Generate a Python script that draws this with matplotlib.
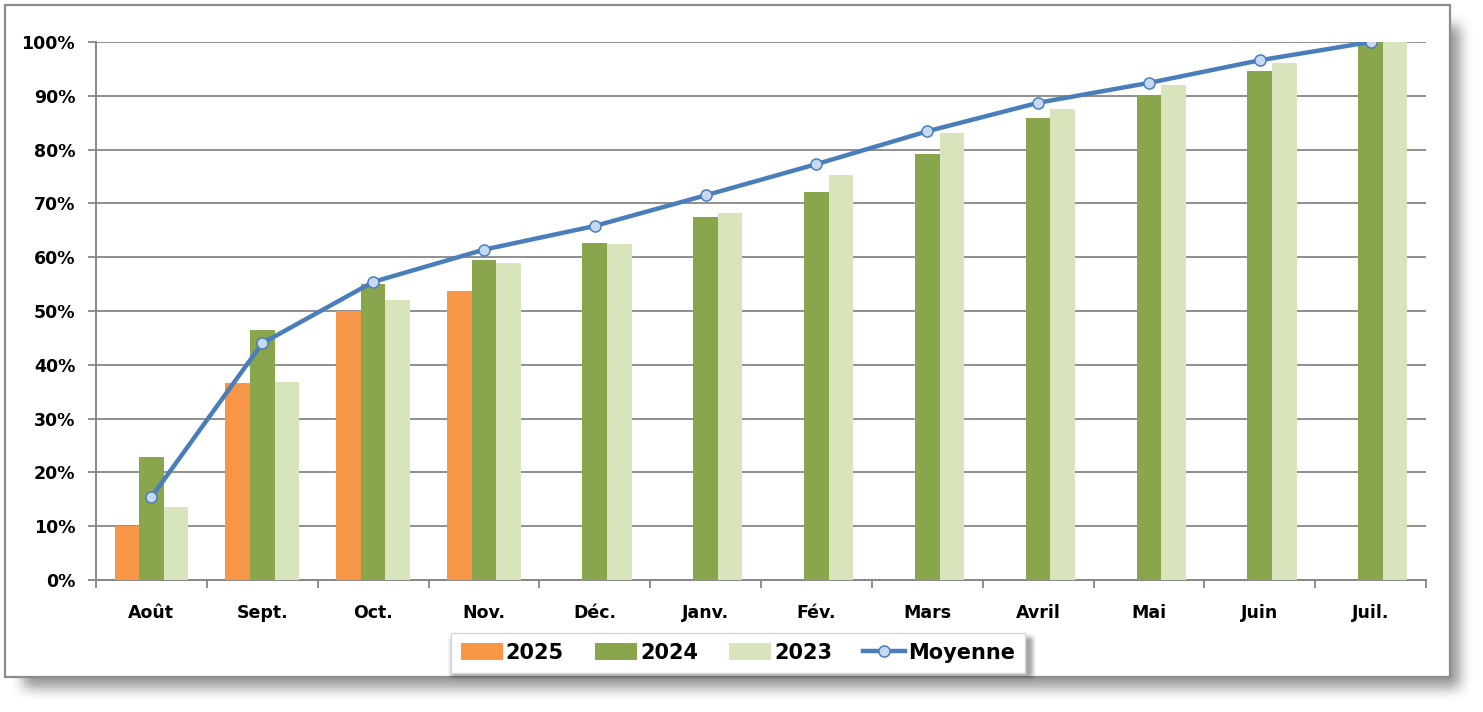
import matplotlib
matplotlib.use("Agg")
import matplotlib.pyplot as plt
import numpy as np
from matplotlib.patches import Rectangle
from matplotlib.ticker import FuncFormatter, FixedLocator
from matplotlib.lines import Line2D
from matplotlib.patches import Patch

months = ["Août", "Sept.", "Oct.", "Nov.", "Déc.", "Janv.", "Fév.", "Mars", "Avril", "Mai", "Juin", "Juil."]
s2025 = [10.1, 36.7, 50.0, 53.8, None, None, None, None, None, None, None, None]
s2024 = [22.8, 46.5, 55.0, 59.4, 62.7, 67.5, 72.1, 79.2, 85.9, 90.1, 94.6, 100.0]
s2023 = [13.5, 36.8, 52.1, 58.9, 62.4, 68.2, 75.3, 83.0, 87.6, 92.0, 96.1, 100.0]
moyenne = [15.4, 44.0, 55.4, 61.4, 65.8, 71.5, 77.3, 83.4, 88.7, 92.4, 96.6, 100.0]
series_labels = ["2025", "2024", "2023", "Moyenne"]

C25 = "#F79646"
C24 = "#8AA64C"
C23 = "#D8E4BC"
CLINE = "#4A7EBB"
CMARK = "#C6D9F1"
GRID = "#878787"

W, H = 1483, 712
fig = plt.figure(figsize=(W / 100, H / 100), dpi=100)
fig.patch.set_facecolor("white")

def px(x0, y0, x1, y1):
    return (x0 / W, 1 - y1 / H, (x1 - x0) / W, (y1 - y0) / H)

def blur1d(a, r, axis):
    k = np.ones(2 * r + 1) / (2 * r + 1)
    return np.apply_along_axis(lambda v: np.convolve(v, k, mode="same"), axis, a)

def soft_shadow(x0, y0, x1, y1, r, strength):
    m = np.zeros((H, W))
    m[y0:y1, x0:x1] = 1.0
    for _ in range(2):
        m = blur1d(m, r, 0)
        m = blur1d(m, r, 1)
    img = np.zeros((H, W, 4))
    img[..., 3] = m * strength
    return img

# outer frame with soft drop shadow
fx0, fy0, fx1, fy1 = 5, 5, 1450, 677
sh = soft_shadow(fx0 + 18, fy0 + 20, fx1 + 10, fy1 + 11, 7, 0.42)
fig.figimage(sh, xo=0, yo=0, origin="upper", zorder=0)

frame = Rectangle((fx0 / W, 1 - fy1 / H), (fx1 - fx0) / W, (fy1 - fy0) / H,
                  transform=fig.transFigure, facecolor="white", edgecolor="#8C8C8C",
                  lw=1.6, zorder=1)
fig.patches.append(frame)

# legend shadow (drawn above frame)
sh2 = soft_shadow(446 + 5, 632 + 5, 1030 + 3, 674 + 3, 2, 0.35)
fig.figimage(sh2, xo=0, yo=0, origin="upper", zorder=1.5)

ax = fig.add_axes(px(96, 42, 1426, 580))
ax.set_zorder(2)
ax.patch.set_alpha(0)

x = np.arange(len(months))
bw = 0.222
v25 = np.array([np.nan if v is None else v for v in s2025], dtype=float)
ax.bar(x - bw, v25, bw, color=C25, zorder=3)
ax.bar(x, s2024, bw, color=C24, zorder=3)
ax.bar(x + bw, s2023, bw, color=C23, zorder=3)
ax.plot(x, moyenne, color=CLINE, lw=3.2, marker="o", ms=8,
        markerfacecolor=CMARK, markeredgecolor=CLINE, markeredgewidth=1.1, zorder=4)

ax.set_xlim(-0.5, len(months) - 0.5)
ax.set_ylim(0, 100)
ax.set_yticks(np.arange(0, 101, 10))
ax.yaxis.set_major_formatter(FuncFormatter(lambda v, p: f"{int(v)}%"))
ax.grid(axis="y", color=GRID, lw=1.3, zorder=1)
ax.set_axisbelow(True)

ax.set_xticks(x)
ax.set_xticklabels(months)
ax.xaxis.set_minor_locator(FixedLocator(np.arange(-0.5, len(months), 1.0)))
ax.tick_params(axis="x", which="major", length=0, pad=17)
ax.tick_params(axis="x", which="minor", length=6, width=1.3, color=GRID, direction="out")
ax.tick_params(axis="y", length=6, width=1.3, color=GRID, pad=9)
for lab in ax.get_xticklabels() + ax.get_yticklabels():
    lab.set_fontweight("bold")
    lab.set_fontsize(12.5)
    lab.set_color("black")

for s in ["top", "right"]:
    ax.spines[s].set_visible(False)
for s in ["left", "bottom"]:
    ax.spines[s].set_color(GRID)
    ax.spines[s].set_linewidth(1.4)

handles = [Patch(facecolor=C25), Patch(facecolor=C24), Patch(facecolor=C23),
           Line2D([], [], color=CLINE, lw=3.2, marker="o", ms=8,
                  markerfacecolor=CMARK, markeredgecolor=CLINE, markeredgewidth=1.1)]
leg = fig.legend(handles, series_labels, loc="center", ncol=4,
                 bbox_to_anchor=(738 / W, 1 - 653 / H),
                 prop={"weight": "bold", "size": 15},
                 frameon=True, fancybox=False, edgecolor="#D8D8D8", framealpha=1.0,
                 facecolor="white",
                 handlelength=2.0, handleheight=0.9, handletextpad=0.15,
                 columnspacing=1.5, borderpad=0.5)
leg.get_frame().set_linewidth(1.0)
leg.set_zorder(5)

fig.savefig("out.png", dpi=100, facecolor="white")
